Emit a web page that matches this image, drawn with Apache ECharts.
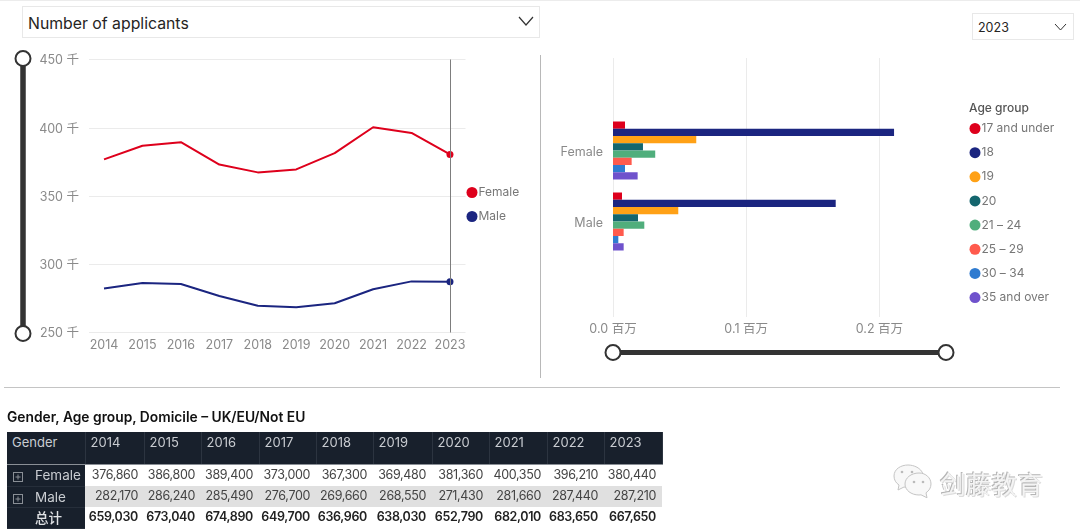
<!DOCTYPE html>
<html><head><meta charset="utf-8">
<script src="https://cdn.jsdelivr.net/npm/echarts@6/dist/echarts.min.js"></script>
<style>
html,body{margin:0;padding:0;background:#fff;width:1080px;height:531px;overflow:hidden;font-family:Inter,"Noto Sans CJK SC",sans-serif}
#chart{position:absolute;left:0;top:0;width:1080px;height:531px}
.abs{position:absolute}
.dd{box-sizing:border-box;border:1px solid #e8e8e8;background:#fff;color:#252423}
.dd svg{position:absolute}
#tt{left:7px;top:409px;font-size:13.8px;font-weight:600;color:#111;white-space:nowrap}
table{position:absolute;left:7px;top:432px;border-collapse:collapse;table-layout:fixed;font-size:12.5px;letter-spacing:-.35px;color:#444}
td,th{padding:0;box-sizing:border-box;overflow:hidden;white-space:nowrap}
th{background:#18202c;color:#c9ccd1;font-weight:400;text-align:left;vertical-align:top;padding:1px 0 0 5px;height:32px;font-size:13px;letter-spacing:0;line-height:18px;border-right:1px solid #2c3440;border-bottom:1px solid #8a8f96}
td{height:21px;text-align:right;padding:0 6px 2px 0}
tr.f td{height:22px}
td.h{background:#18202c;color:#c9ccd1;text-align:left;padding:0;font-size:13.500px;letter-spacing:0;border-bottom:1px solid #262e3a;position:relative}
td.h span{position:absolute;left:28px;top:2px}
td.h svg{position:absolute;left:6px;top:7px}
tr.m td:not(.h){background:#e0e0e0}
tr.t td{font-weight:600;color:#222}
tr.t td.h{color:#dfe1e4;font-weight:500}
tr.t td.h span{top:-1px}
#wm{left:940px;top:464px;font-size:25.500px;color:#f4f4f4;text-shadow:-1px -1px 0 #b5b5b5,1px 1px 0 #dcdcdc;letter-spacing:.3px;white-space:nowrap;font-family:"Noto Sans CJK SC"}
</style></head><body>
<div id="chart"></div>
<div class="abs" style="left:0;top:0;width:1080px;height:1px;background:#ececec"></div>
<div class="abs" style="left:540px;top:55px;width:1px;height:323px;background:#b8b8b8"></div>
<div class="abs" style="left:4px;top:387px;width:1056px;height:1px;background:#c4c4c4"></div>
<div class="abs dd" style="left:22px;top:6px;width:518px;height:32px;font-size:15.800px;line-height:33px;padding-left:5px">Number of applicants
<svg style="right:5px;top:9px" width="16" height="11"><polyline points="1,1 8,9 15,1" fill="none" stroke="#333" stroke-width="1.2"/></svg></div>
<div class="abs dd" style="left:972px;top:13px;width:102px;height:27px;font-size:12.500px;line-height:27px;padding-left:5px">2023
<svg style="right:6px;top:9px" width="13" height="9"><polyline points="1,1 6.5,7 12,1" fill="none" stroke="#333" stroke-width="1"/></svg></div>
<div class="abs" id="tt">Gender, Age group, Domicile – UK/EU/Not EU</div>
<table id="tb"></table>
<svg class="abs" style="left:890px;top:462px" width="46" height="44">
<g fill="#f8f8f8" stroke="#c4c4c4" stroke-width="1">
<path d="M18 3c-7 0-14 4-14 11 0 4 2 7 5 9l-1 5 6-3c2 .5 4 .6 6 .5L33 12c-2-6-9-9-15-9z"/>
<path d="M29 11c-8 0-14 5-14 11s6 11 14 11l2-.2 6 3-1-5c3-2 5-5 5-8.800 0-6-5-11-12-11z"/>
</g><g fill="#bbb"><circle cx="12" cy="10" r="1.300"/><circle cx="22" cy="10" r="1.300"/><circle cx="24" cy="20" r="1.300"/><circle cx="33" cy="20" r="1.300"/></g></svg>
<div class="abs" id="wm">剑藤教育</div>
<script>
const years = ['2014','2015','2016','2017','2018','2019','2020','2021','2022','2023'];
const femaleByYear = [376860,386800,389400,373000,367300,369480,381360,400350,396210,380440];
const maleByYear   = [282170,286240,285490,276700,269660,268550,271430,281660,287440,287210];
const totalByYear  = [659030,673040,674890,649700,636960,638030,652790,682010,683650,667650];
const genders = ['Female','Male'];
const ageGroups = ['17 and under','18','19','20','21 – 24','25 – 29','30 – 34','35 and over'];
const femaleByAge = [9000,211000,62500,22500,31700,14000,9000,18500];
const maleByAge   = [6750,167200,49000,18750,23500,8000,4000,8000];
const ageColors = ['#DE001C','#1B2580','#FFA116','#14666E','#50AE7C','#FF5A4D','#2F7BD0','#6F52CC'];
const lineColors = ['#DE001C','#1B2580'];

const font = 'Inter, "Noto Sans CJK SC", sans-serif';
const grey = '#8a8a8a';
const gridCol = '#ebebeb';
const chart = echarts.init(document.getElementById('chart'), null, {renderer:'canvas'});
const lineSym = (v,p)=> p.dataIndex===years.length-1 ? 7 : 0;
const lineSeries = (name,data,color,mark)=>({
  name,type:'line',xAxisIndex:1,yAxisIndex:1,data,silent:true,
  showSymbol:true,showAllSymbol:true,symbol:'circle',symbolSize:lineSym,
  lineStyle:{width:2,color},itemStyle:{color},animation:false,
  markLine: mark ? {silent:true,symbol:'none',label:{show:false},animation:false,
    lineStyle:{color:'#7d7d7d',width:1,type:'solid'},data:[{xAxis:'2023'}]} : undefined
});
const barSeries = ageGroups.map((a,i)=>({
  name:a,type:'bar',xAxisIndex:3,yAxisIndex:3,silent:true,animation:false,
  data:[femaleByAge[i],maleByAge[i]],barWidth:7.25,barGap:0,itemStyle:{color:ageColors[i]}
}));
const sliderBase = {type:'slider',filterMode:'none',showDetail:false,showDataShadow:false,brushSelect:false,
  moveHandleSize:0,handleIcon:'circle',handleSize:15,zoomLock:false,
  handleStyle:{color:'#fff',borderColor:'#333',borderWidth:2},
  emphasis:{handleStyle:{borderColor:'#333',borderWidth:2}},
  fillerColor:'#333',backgroundColor:'#333',borderColor:'transparent',start:0,end:100};
const richLabel = top => ({a:{color:grey,fontSize:12.5,fontFamily:font,padding:[top,0,0,0]}});
chart.setOption({
  animation:false,
  textStyle:{fontFamily:font},
  title:{text:'Age group',left:964,top:97,textStyle:{fontSize:12,fontWeight:500,color:'#555',fontFamily:font}},
  grid:[
    {left:89,top:59.500,width:376.500,height:273,containLabel:false},
    {left:84.800,top:59.500,width:384.400,height:273},
    {left:613,top:58,width:333,height:259},
    {left:613,top:115,width:333,height:142}
  ],
  xAxis:[
    {gridIndex:0,type:'value',show:false,min:0,max:1},
    {gridIndex:1,type:'category',data:years,boundaryGap:true,axisLine:{show:false},axisTick:{show:false},
      axisLabel:{color:grey,fontSize:12.500,margin:6,interval:0,fontFamily:font}},
    {gridIndex:2,type:'value',min:0,max:250000,interval:100000,axisLine:{show:false},axisTick:{show:false},
      axisLabel:{color:grey,fontSize:12.500,margin:6,showMaxLabel:false,formatter:v=>(v/1e6).toFixed(1)+' 百万',fontFamily:font},
      splitLine:{show:true,showMaxLine:false,lineStyle:{color:gridCol,width:1}}},
    {gridIndex:3,type:'value',show:false,min:0,max:250000}
  ],
  yAxis:[
    {gridIndex:0,type:'value',min:250000,max:450000,interval:50000,axisLine:{show:false},axisTick:{show:false},
      axisLabel:{margin:10,formatter:v=>'{a|'+(v/1000)+' 千}',rich:richLabel(2)},
      splitLine:{show:true,lineStyle:{color:gridCol,width:1}}},
    {gridIndex:1,type:'value',show:false,min:250000,max:450000},
    {gridIndex:2,type:'value',show:false,min:0,max:1},
    {gridIndex:3,type:'category',data:genders,inverse:true,axisLine:{show:false},axisTick:{show:false},
      axisLabel:{margin:10,formatter:v=>'{a|'+v+'}',rich:richLabel(4)}}
  ],
  legend:[
    {orient:'vertical',left:466.500,top:186.500,padding:0,data:genders,icon:'circle',itemWidth:11,itemHeight:11,itemGap:12,selectedMode:false,
     textStyle:{color:'#777',fontSize:12,padding:[0,0,0,-4],fontFamily:font}},
    {orient:'vertical',left:969.500,top:122.500,padding:0,data:ageGroups,icon:'circle',itemWidth:11,itemHeight:11,itemGap:12.150,selectedMode:false,
     textStyle:{color:'#777',fontSize:12,padding:[0,0,0,-4],fontFamily:font}}
  ],
  dataZoom:[
    Object.assign({},sliderBase,{yAxisIndex:1,orient:'vertical',left:19.500,width:5,top:57.500,height:277}),
    Object.assign({},sliderBase,{xAxisIndex:[2,3],orient:'horizontal',left:610,width:335,top:350,height:5})
  ],
  series:[
    lineSeries('Female',femaleByYear,lineColors[0],true),
    lineSeries('Male',maleByYear,lineColors[1],false),
    ...barSeries
  ]
});
const fmt = n=>n.toLocaleString('en-US');
const widths=[78,59,57,58,57,57,59,57,58,57,58];
const plus='<svg width="10" height="10"><rect x=".5" y=".5" width="9" height="9" fill="none" stroke="#8a8f96"/><path d="M2.500 5h5M5 2.500v5" stroke="#8a8f96"/></svg>';
let h='<colgroup>'+widths.map(w=>`<col style="width:${w}px">`).join('')+'</colgroup>';
h+='<tr><th>Gender</th>'+years.map(y=>`<th>${y}</th>`).join('')+'</tr>';
h+='<tr class="f"><td class="h">'+plus+'<span>Female</span></td>'+femaleByYear.map(v=>`<td>${fmt(v)}</td>`).join('')+'</tr>';
h+='<tr class="m"><td class="h">'+plus+'<span>Male</span></td>'+maleByYear.map(v=>`<td>${fmt(v)}</td>`).join('')+'</tr>';
h+='<tr class="t"><td class="h"><span>总计</span></td>'+totalByYear.map(v=>`<td>${fmt(v)}</td>`).join('')+'</tr>';
const tb=document.getElementById('tb');tb.innerHTML=h;tb.style.width=widths.reduce((a,b)=>a+b,0)+'px';
</script>
</body></html>
